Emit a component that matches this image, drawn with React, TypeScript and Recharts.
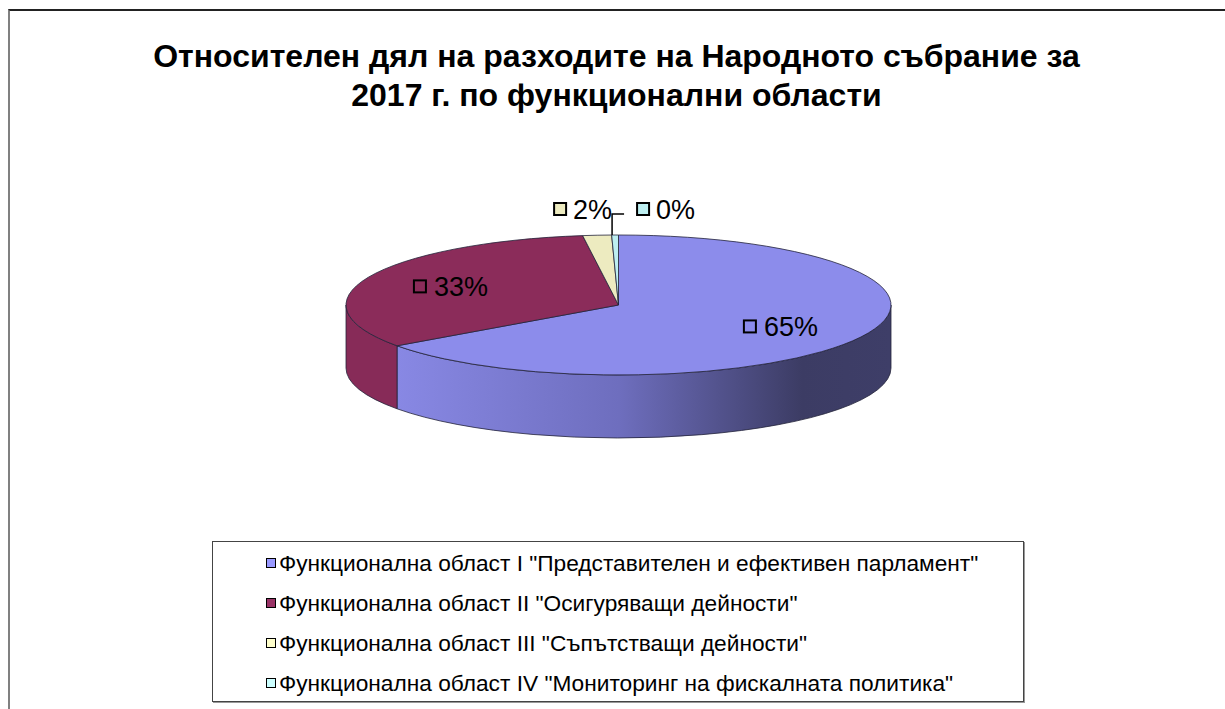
import React from 'react';
import { PieChart, Pie, Cell, Legend } from 'recharts';

const CATEGORIES = [
  'Функционална област I "Представителен и ефективен парламент"',
  'Функционална област II "Осигуряващи дейности"',
  'Функционална област III "Съпътстващи дейности"',
  'Функционална област IV "Мониторинг на фискалната политика"',
];
const VALUES = [65.1, 32.8, 1.7, 0.4];
const TOP_COLORS = ['#8C8CEB', '#8B2C5A', '#EDEBC0', '#BDEFF1'];
const SIDE_COLORS = ['url(#sideBlue)', '#872B58', '#CFCCA4', '#9FD6D8'];
const LEGEND_COLORS = ['#9999FF', '#993366', '#FFFFCC', '#CCFFFF'];
const TITLE_LINES = [
  'Относителен дял на разходите на Народното събрание за',
  '2017 г. по функционални области',
];

const data = CATEGORIES.map((name, i) => ({ name, value: VALUES[i] }));

const RAD = Math.PI / 180;
const FLAT = 70 / 272.5; // vertical squash of the tilted pie
const DEPTH = 63;
const FONT = '"Liberation Sans", Arial, sans-serif';

const pt = (cx: number, cy: number, rx: number, a: number, dy = 0) => [
  cx + rx * Math.cos(a * RAD),
  cy - rx * FLAT * Math.sin(a * RAD) + dy,
];

const TopSlice = (props: any) => {
  const { cx, cy, outerRadius, startAngle, endAngle, fill } = props;
  const rx = outerRadius;
  const ry = outerRadius * FLAT;
  const [x1, y1] = pt(cx, cy, rx, startAngle);
  const [x2, y2] = pt(cx, cy, rx, endAngle);
  const large = Math.abs(startAngle - endAngle) > 180 ? 1 : 0;
  const d = `M${cx},${cy} L${x1},${y1} A${rx},${ry} 0 ${large} 1 ${x2},${y2} Z`;
  return <path d={d} fill={fill} stroke="#23233a" strokeWidth={0.8} strokeLinejoin="round" />;
};

const SideSlice = (props: any) => {
  const { cx, cy, outerRadius, startAngle, endAngle, fill } = props;
  const rx = outerRadius;
  const ry = outerRadius * FLAT;
  const hi0 = Math.max(startAngle, endAngle);
  const lo0 = Math.min(startAngle, endAngle);
  const parts: number[][] = [];
  for (const k of [-360, 0, 360]) {
    const lo = Math.max(lo0, -180 + k);
    const hi = Math.min(hi0, k);
    if (hi - lo > 0.01) parts.push([lo, hi]);
  }
  return (
    <g>
      {parts.map(([lo, hi], i) => {
        const [ax, ay] = pt(cx, cy, rx, hi);
        const [bx, by] = pt(cx, cy, rx, lo);
        const d = `M${ax},${ay} A${rx},${ry} 0 0 1 ${bx},${by} L${bx},${by + DEPTH} A${rx},${ry} 0 0 0 ${ax},${ay + DEPTH} Z`;
        return <path key={i} d={d} fill={fill} stroke="#23233a" strokeWidth={0.8} strokeLinejoin="round" />;
      })}
    </g>
  );
};

const textWidth = (s: string, size: number) =>
  s.split('').reduce((w, c) => w + (c === '%' ? 0.889 : 0.556), 0) * size;

const LABEL_SIZE = 27;
const MK = 12;

const renderLabel = (props: any) => {
  const { cx, cy, outerRadius, midAngle, percent, index } = props;
  const pct = `${Math.round(percent * 100)}%`;
  const rx = outerRadius;
  const ry = rx * FLAT;
  const tw = textWidth(pct, LABEL_SIZE);
  const marker = (x: number, y: number) => (
    <rect x={x} y={y - MK / 2} width={MK} height={MK} fill={TOP_COLORS[index]} stroke="#000" strokeWidth={2} />
  );
  const txt = (x: number, y: number) => (
    <text x={x} y={y} dy="0.36em" fontSize={LABEL_SIZE} fontFamily={FONT} fill="#000" textAnchor="start">
      {pct}
    </text>
  );
  if (percent > 0.05) {
    const f = 0.67;
    const x = cx + rx * f * Math.cos(midAngle * RAD);
    const y = cy - ry * f * Math.sin(midAngle * RAD);
    const start = x - (MK + 8 + tw) / 2;
    return (
      <g>
        {marker(start, y)}
        {txt(start + MK + 8, y)}
      </g>
    );
  }
  const rimX = cx + rx * Math.cos(midAngle * RAD);
  const rimY = cy - ry * Math.sin(midAngle * RAD);
  const ly = cy - ry - 26;
  const prevSmall = index > 0 && VALUES[index - 1] / VALUES.reduce((a, b) => a + b, 0) <= 0.05;
  if (!prevSmall) {
    const end = rimX + 15;
    const start = end - tw - MK - 7;
    return (
      <g>
        {marker(start, ly)}
        {txt(start + MK + 7, ly)}
      </g>
    );
  }
  const lx = rimX - 3;
  return (
    <g>
      <path d={`M${lx},${rimY} V${ly + 5} H${lx + 12}`} fill="none" stroke="#000" strokeWidth={1.5} />
      {marker(rimX + 22, ly)}
      {txt(rimX + 22 + MK + 7, ly)}
    </g>
  );
};

const LegendBox = () => (
  <div
    style={{
      width: '100%',
      height: '100%',
      boxSizing: 'border-box',
      border: '1px solid #444',
      boxShadow: '1px 1px 0 #999',
      background: '#fff',
      paddingTop: 1,
      paddingLeft: 53,
      fontFamily: FONT,
      fontSize: 22.7,
      color: '#000',
    }}
  >
    {CATEGORIES.map((c, i) => (
      <div key={c} style={{ height: 40, display: 'flex', alignItems: 'center', whiteSpace: 'nowrap' }}>
        <span
          style={{
            display: 'inline-block',
            width: 8,
            height: 8,
            border: '1.5px solid #000',
            background: LEGEND_COLORS[i],
            marginRight: 3,
          }}
        />
        {c}
      </div>
    ))}
  </div>
);

export default function App() {
  return (
    <div style={{ position: 'absolute', left: 0, top: 0, width: 1225, height: 709, overflow: 'hidden', background: '#fff' }}>
      <div
        style={{
          position: 'absolute',
          left: 8,
          top: 9,
          width: 1217,
          height: 700,
          borderTop: '2px solid #222',
          borderLeft: '2px solid #808080',
        }}
      />
      <div
        style={{
          position: 'absolute',
          left: 8,
          top: 37,
          width: 1217,
          textAlign: 'center',
          fontFamily: FONT,
          fontWeight: 'bold',
          fontSize: 32,
          lineHeight: '39px',
          color: '#000',
        }}
      >
        {TITLE_LINES.map((t) => (
          <div key={t}>{t}</div>
        ))}
      </div>
      <div style={{ position: 'absolute', left: 0, top: 0 }}>
        <PieChart width={1225} height={709} margin={{ top: 0, right: 0, bottom: 0, left: 0 }}>
          <defs>
            <linearGradient id="sideBlue" x1="0" y1="0" x2="1" y2="0">
              <stop offset="0%" stopColor="#8888E4" />
              <stop offset="45%" stopColor="#6E6EBE" />
              <stop offset="82%" stopColor="#3C3C64" />
              <stop offset="100%" stopColor="#3E3E68" />
            </linearGradient>
          </defs>
          <Pie
            data={data}
            dataKey="value"
            nameKey="name"
            cx={618.5}
            cy={305}
            outerRadius={272.5}
            startAngle={90}
            endAngle={-270}
            stroke="none"
            legendType="none"
            isAnimationActive={false}
            shape={SideSlice}
            inactiveShape={SideSlice}
          >
            {data.map((d, i) => (
              <Cell key={`side-${i}`} fill={SIDE_COLORS[i]} />
            ))}
          </Pie>
          <Pie
            data={data}
            dataKey="value"
            nameKey="name"
            cx={618.5}
            cy={305}
            outerRadius={272.5}
            startAngle={90}
            endAngle={-270}
            stroke="none"
            isAnimationActive={false}
            shape={TopSlice}
            inactiveShape={TopSlice}
            label={renderLabel}
            labelLine={false}
          >
            {data.map((d, i) => (
              <Cell key={`top-${i}`} fill={TOP_COLORS[i]} />
            ))}
          </Pie>
          <Legend
            content={<LegendBox />}
            wrapperStyle={{ left: 212, top: 541, bottom: 'auto', width: 812, height: 161 }}
          />
        </PieChart>
      </div>
    </div>
  );
}
